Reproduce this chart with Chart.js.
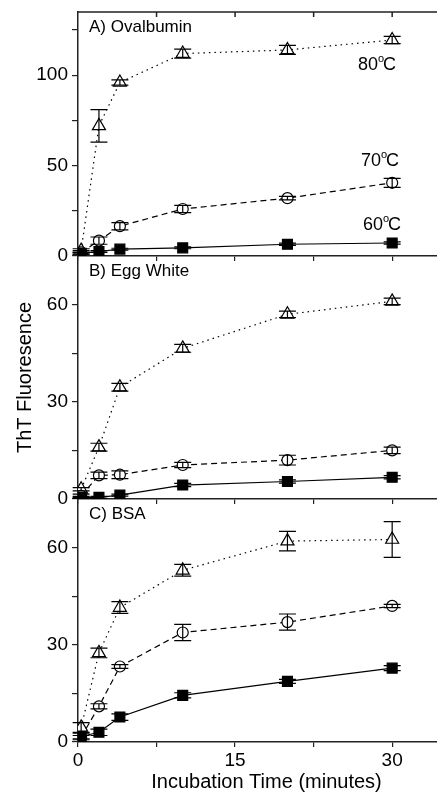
<!DOCTYPE html>
<html>
<head>
<meta charset="utf-8">
<script src="https://cdn.jsdelivr.net/npm/chart.js@4.4.0/dist/chart.umd.min.js"></script>
<style>
  html, body { margin: 0; padding: 0; background: #fff; }
  #wrap { position: relative; width: 437px; height: 792px; overflow: hidden; }
  #wrap canvas { position: absolute; left: 0; }
</style>
</head>
<body>
<div id="wrap">
  <canvas id="panel-a" width="455" height="275" style="top:0"></canvas>
  <canvas id="panel-b" width="455" height="262" style="top:256px"></canvas>
  <canvas id="panel-c" width="455" height="293" style="top:499px"></canvas>
</div>
<script>
/* ThT fluorescence vs incubation time, three stacked panels */

const FONT = '"Liberation Sans", Arial, Helvetica, sans-serif';

// incubation times (minutes)
const TIME = [0.3, 2, 4, 10, 20, 30];

// axis ticks
const X_TICKS = [0, 7.5, 15, 22.5, 30];
const X_LABELS = [0, 15, 30];
const Y_TICKS_A = [0, 25, 50, 75, 100, 125];
const Y_LABELS_A = [0, 50, 100];
const Y_TICKS_BC = [0, 15, 30, 45, 60];
const Y_LABELS_BC = [0, 30, 60];

// A) Ovalbumin
const ova80 = [3, 72, 96, 112, 114, 119.5];
const ova80Err = [1, 9, 1.5, 2.5, 2.5, 2];
const ova70 = [2, 8.5, 16.5, 26, 32, 40.5];
const ova70Err = [1, 2, 2, 2, 1, 2.5];
const ova60 = [1.5, 2.5, 3.8, 4.5, 6.5, 7.2];
const ova60Err = [0.5, 0.5, 0.5, 0.5, 0.6, 0.6];

// B) Egg White
const egg80 = [3, 16, 34.5, 46.5, 57, 61];
const egg80Err = [0.5, 1.2, 1.2, 1.2, 1, 1];
const egg70 = [1, 7.3, 7.5, 10.5, 12, 15];
const egg70Err = [0.5, 1, 1.2, 0.8, 1.5, 1];
const egg60 = [0.5, 0.5, 1.2, 4.3, 5.4, 6.7];
const egg60Err = [0.3, 0.3, 0.3, 0.5, 0.5, 0.5];

// C) BSA
const bsa80 = [4.5, 27.5, 41.5, 53, 62, 62.5];
const bsa80Err = [1.5, 1.5, 1.8, 1.8, 3, 5.5];
const bsa70 = [1.5, 11, 23.3, 33.8, 37, 42];
const bsa70Err = [0.5, 0.8, 0.6, 2.5, 2.5, 0.5];
const bsa60 = [1.7, 3, 7.7, 14.4, 18.7, 22.8];
const bsa60Err = [1, 1, 1, 0.8, 0.6, 0.8];

// marker / line look for each temperature
const STYLE = {
  t80: { pointStyle: 'triangle', pointRadius: 7.5, fill: '#fff', dash: [1.5, 4] },
  t70: { pointStyle: 'circle', pointRadius: 5.5, fill: '#fff', dash: [6, 4] },
  t60: { pointStyle: 'rect', pointRadius: 7, fill: '#000', dash: [] },
};

function series(label, values, errors, st) {
  return {
    label,
    data: TIME.map((t, i) => ({ x: t, y: values[i] })),
    errors,
    borderColor: '#000',
    borderWidth: 1.2,
    borderDash: st.dash,
    pointStyle: st.pointStyle,
    pointRadius: st.pointRadius,
    pointBorderColor: '#000',
    pointBackgroundColor: st.fill,
    pointBorderWidth: 1.2,
    tension: 0,
    fill: false,
  };
}

// vertical error bars with caps, drawn over the markers
const errorBars = {
  id: 'errorBars',
  afterDatasetsDraw(chart) {
    const { ctx } = chart;
    const y = chart.scales.y;
    ctx.save();
    ctx.strokeStyle = '#000';
    ctx.lineWidth = 1.2;
    chart.data.datasets.forEach((ds, di) => {
      const meta = chart.getDatasetMeta(di);
      meta.data.forEach((pt, i) => {
        const v = ds.data[i].y, e = ds.errors[i];
        const top = y.getPixelForValue(v + e);
        const bot = y.getPixelForValue(v - e);
        ctx.beginPath();
        ctx.moveTo(pt.x, top); ctx.lineTo(pt.x, bot);
        ctx.moveTo(pt.x - 8.5, top); ctx.lineTo(pt.x + 8.5, top);
        ctx.moveTo(pt.x - 8.5, bot); ctx.lineTo(pt.x + 8.5, bot);
        ctx.stroke();
      });
    });
    ctx.restore();
  },
};

// panel title, temperature labels, top frame line
const panelText = {
  id: 'panelText',
  afterDraw(chart, args, opts) {
    const { ctx, chartArea: ca } = chart;
    const x = chart.scales.x;
    ctx.save();
    ctx.fillStyle = '#000';
    ctx.textBaseline = 'middle';
    ctx.textAlign = 'left';
    ctx.font = '17px ' + FONT;
    ctx.fillText(opts.title, ca.left + 11, ca.top + 15);

    (opts.temps || []).forEach((t) => {
      ctx.font = '18px ' + FONT;
      ctx.fillText(t.num, t.x, t.y);
      const w = ctx.measureText(t.num).width;
      ctx.font = '11px ' + FONT;
      ctx.fillText('o', t.x + w, t.y - 6);
      ctx.font = '18px ' + FONT;
      ctx.fillText('C', t.x + w + 5, t.y);
    });

    if (opts.topFrame) {
      ctx.strokeStyle = '#222';
      ctx.lineWidth = 1.5;
      ctx.beginPath();
      ctx.moveTo(ca.left, ca.top);
      ctx.lineTo(ca.right, ca.top);
      X_TICKS.slice(1).forEach((v) => {
        const px = x.getPixelForValue(v);
        ctx.moveTo(px, ca.top);
        ctx.lineTo(px, ca.top + 5);
      });
      ctx.stroke();
    }
    ctx.restore();
  },
};

function makePanel(id, datasets, cfg) {
  const showX = !!cfg.bottom;
  return new Chart(document.getElementById(id), {
    type: 'line',
    data: { datasets },
    plugins: [errorBars, panelText],
    options: {
      responsive: false,
      animation: false,
      events: [],
      layout: { autoPadding: false, padding: { top: cfg.padTop || 0, left: 0, right: 0, bottom: 0 } },
      plugins: {
        legend: { display: false },
        tooltip: { enabled: false },
        panelText: { title: cfg.title, temps: cfg.temps, topFrame: cfg.topFrame },
      },
      scales: {
        x: {
          type: 'linear',
          min: 0,
          max: 36,
          afterBuildTicks: (s) => { s.ticks = X_TICKS.map((v) => ({ value: v })); },
          afterFit: (s) => {
            s.height = showX ? 50 : 19;
            s.paddingLeft = 0; s.paddingRight = 0;
          },
          ticks: {
            display: showX,
            autoSkip: false,
            maxRotation: 0,
            padding: 2,
            color: '#000',
            font: { family: FONT, size: 19 },
            callback: (v) => (X_LABELS.includes(v) ? String(v) : ''),
          },
          grid: { drawOnChartArea: false, tickLength: 5, color: '#222', lineWidth: 1.2 },
          border: { color: '#222', width: 1.5 },
          title: {
            display: showX,
            text: 'Incubation Time (minutes)',
            color: '#000',
            padding: { top: 0, bottom: 0 },
            font: { family: FONT, size: 20, lineHeight: 1 },
          },
        },
        y: {
          min: 0,
          max: cfg.yMax,
          afterBuildTicks: (s) => { s.ticks = cfg.yTicks.map((v) => ({ value: v })); },
          afterFit: (s) => {
            s.width = 78;
            s.paddingTop = 0; s.paddingBottom = 0;
          },
          ticks: {
            autoSkip: false,
            padding: 4,
            color: '#000',
            font: { family: FONT, size: 19 },
            callback: (v) => (cfg.yLabels.includes(v) ? String(v) : ''),
          },
          grid: { drawOnChartArea: false, tickLength: 6, color: '#222', lineWidth: 1.2 },
          border: { color: '#222', width: 1.5 },
          title: {
            display: !!cfg.yTitle,
            text: cfg.yTitle || '',
            color: '#000',
            padding: { top: 15, bottom: 0 },
            font: { family: FONT, size: 20, lineHeight: 1 },
          },
        },
      },
    },
  });
}

makePanel('panel-a', [
  series('60°C', ova60, ova60Err, STYLE.t60),
  series('70°C', ova70, ova70Err, STYLE.t70),
  series('80°C', ova80, ova80Err, STYLE.t80),
], {
  title: 'A) Ovalbumin', padTop: 12, topFrame: true,
  yMax: 135, yTicks: Y_TICKS_A, yLabels: Y_LABELS_A,
  temps: [
    { num: '80', x: 358, y: 65 },
    { num: '70', x: 361, y: 161 },
    { num: '60', x: 363, y: 225 },
  ],
});

makePanel('panel-b', [
  series('60°C', egg60, egg60Err, STYLE.t60),
  series('70°C', egg70, egg70Err, STYLE.t70),
  series('80°C', egg80, egg80Err, STYLE.t80),
], {
  title: 'B) Egg White',
  yMax: 75, yTicks: Y_TICKS_BC, yLabels: Y_LABELS_BC,
  yTitle: 'ThT Fluoresence',
});

makePanel('panel-c', [
  series('60°C', bsa60, bsa60Err, STYLE.t60),
  series('70°C', bsa70, bsa70Err, STYLE.t70),
  series('80°C', bsa80, bsa80Err, STYLE.t80),
], {
  title: 'C) BSA', bottom: true,
  yMax: 75, yTicks: Y_TICKS_BC, yLabels: Y_LABELS_BC,
});
</script>
</body>
</html>
